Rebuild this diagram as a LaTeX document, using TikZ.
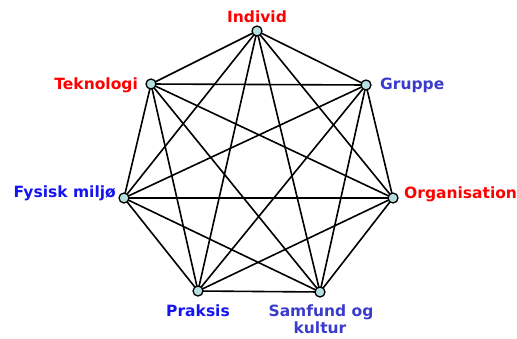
\documentclass[tikz,border=0pt]{standalone}
\usepackage{fontspec}
\setmainfont{DejaVu Sans}
\definecolor{nodefill}{RGB}{180,222,224}
\definecolor{lblred}{RGB}{255,0,0}
\definecolor{lblslate}{RGB}{60,60,204}
\definecolor{lblblue}{RGB}{20,20,240}
\begin{document}
\begin{tikzpicture}[x=1pt,y=-1pt,
  vtx/.style={circle,draw=black,fill=nodefill,line width=1.3pt,inner sep=0pt,minimum size=10pt},
  lbl/.style={font=\fontsize{15.5}{18}\selectfont\bfseries,inner sep=0pt},
  edge/.style={line width=1.6pt,black}]
\useasboundingbox (0,0) rectangle (517,338);
\coordinate (pA) at (257,31);
\coordinate (pB) at (366,85);
\coordinate (pC) at (393,198);
\coordinate (pD) at (320,292);
\coordinate (pE) at (198,291);
\coordinate (pF) at (124,198);
\coordinate (pG) at (151,84);
\foreach \a/\b in {pA/pB,pA/pC,pA/pD,pA/pE,pA/pF,pA/pG,
                   pB/pC,pB/pD,pB/pE,pB/pF,pB/pG,
                   pC/pD,pC/pE,pC/pF,pC/pG,
                   pD/pE,pD/pF,pD/pG,
                   pE/pF,pE/pG,
                   pF/pG}
  \draw[edge] (\a) -- (\b);
\node[vtx] (nA) at (pA) {};
\node[vtx] (nB) at (pB) {};
\node[vtx] (nC) at (pC) {};
\node[vtx] (nD) at (pD) {};
\node[vtx] (nE) at (pE) {};
\node[vtx] (nF) at (pF) {};
\node[vtx] (nG) at (pG) {};
\node[lbl,text=lblred,anchor=base] (tA) at (257,22) {Individ};
\node[lbl,text=lblslate,anchor=base west] (tB) at (380,89) {Gruppe};
\node[lbl,text=lblred,anchor=base west] (tC) at (404,198) {Organisation};
\node[lbl,text=lblslate,anchor=base] (tD) at (321,316) {Samfund og};
\node[lbl,text=lblslate,anchor=base] (tD2) at (320,333) {kultur};
\node[lbl,text=lblblue,anchor=base] (tE) at (198,316) {Praksis};
\node[lbl,text=lblblue,anchor=base east] (tF) at (116,197) {Fysisk miljø};
\node[lbl,text=lblred,anchor=base east] (tG) at (138,89) {Teknologi};
\end{tikzpicture}
\end{document}
